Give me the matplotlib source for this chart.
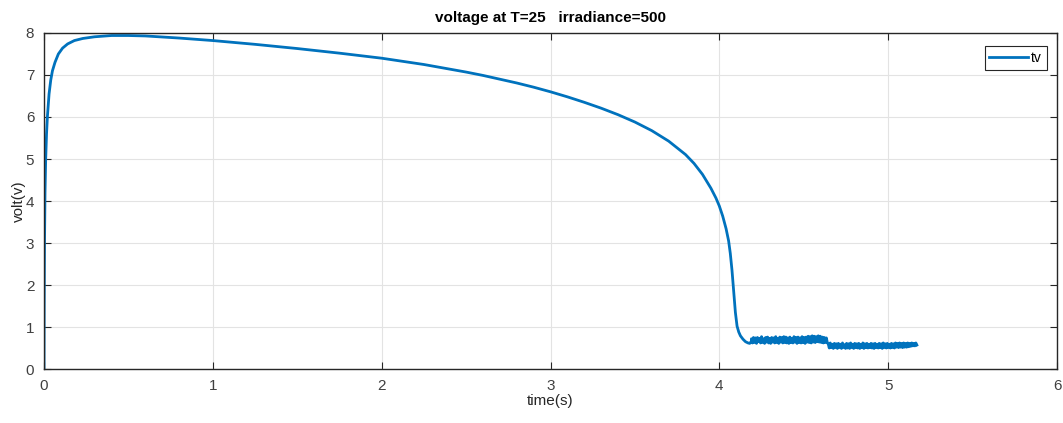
import matplotlib
matplotlib.use("Agg")
import matplotlib.pyplot as plt
import numpy as np

# main discharge curve
time_pts = [0, 0.001, 0.003, 0.006, 0.01, 0.015, 0.02, 0.03, 0.04, 0.05, 0.065,
            0.085, 0.11, 0.14, 0.18, 0.23, 0.3, 0.4, 0.5, 0.6, 0.8, 1.0, 1.25,
            1.5, 1.75, 2.0, 2.25, 2.5, 2.6, 2.7, 2.8, 2.9, 3.0, 3.1, 3.2, 3.3,
            3.4, 3.5, 3.6, 3.7, 3.8, 3.85, 3.9, 3.95, 3.98, 4.0, 4.02, 4.04,
            4.055, 4.065, 4.075, 4.085, 4.095, 4.105, 4.115, 4.125, 4.14, 4.155,
            4.17, 4.18, 4.19]
volt_pts = [0, 1.5, 3.0, 4.2, 5.0, 5.6, 6.0, 6.55, 6.88, 7.1, 7.3,
            7.5, 7.64, 7.74, 7.82, 7.87, 7.91, 7.94, 7.94, 7.93, 7.88, 7.82, 7.73,
            7.63, 7.52, 7.40, 7.25, 7.07, 6.99, 6.90, 6.81, 6.71, 6.60, 6.48, 6.35, 6.21,
            6.055, 5.88, 5.675, 5.425, 5.105, 4.895, 4.635, 4.305, 4.07, 3.88, 3.64, 3.34,
            3.05, 2.75, 2.35, 1.85, 1.35, 1.02, 0.88, 0.79, 0.71, 0.65,
            0.62, 0.61, 0.66]

# noisy tail after the collapse
tail_a_span = (4.19, 4.64)
tail_a = [0.72, 0.62, 0.75, 0.63, 0.74, 0.61, 0.75, 0.65, 0.73, 0.62, 0.77, 0.63,
          0.72, 0.61, 0.75, 0.64, 0.76, 0.62, 0.73, 0.61, 0.75, 0.64, 0.74, 0.62,
          0.77, 0.63, 0.73, 0.61, 0.76, 0.64, 0.75, 0.62, 0.77, 0.63, 0.76, 0.62,
          0.74, 0.61, 0.76, 0.63, 0.73, 0.62, 0.77, 0.64, 0.75, 0.61, 0.76, 0.63,
          0.74, 0.62, 0.77, 0.63, 0.75, 0.61, 0.76, 0.64, 0.78, 0.63, 0.77, 0.62,
          0.79, 0.64, 0.78, 0.63, 0.77, 0.65, 0.79, 0.64, 0.78, 0.63, 0.76, 0.62,
          0.75, 0.63, 0.74, 0.62]
tail_b_span = (4.645, 5.17)
tail_b = [0.60, 0.50, 0.62, 0.51, 0.59, 0.49, 0.61, 0.51, 0.60, 0.49, 0.61, 0.51,
          0.59, 0.49, 0.62, 0.51, 0.58, 0.49, 0.61, 0.50, 0.60, 0.49, 0.62, 0.51,
          0.59, 0.49, 0.61, 0.51, 0.60, 0.50, 0.61, 0.49, 0.59, 0.51, 0.62, 0.49,
          0.60, 0.51, 0.61, 0.50, 0.59, 0.51, 0.61, 0.50, 0.60, 0.49, 0.61, 0.51,
          0.59, 0.50, 0.61, 0.51, 0.60, 0.49, 0.62, 0.51, 0.60, 0.50, 0.61, 0.51,
          0.59, 0.50, 0.61, 0.51, 0.60, 0.50, 0.62, 0.52, 0.61, 0.51, 0.62, 0.52,
          0.61, 0.51, 0.62, 0.52, 0.61, 0.52, 0.62, 0.53, 0.61, 0.54, 0.62, 0.55,
          0.61, 0.55, 0.62, 0.57]

t = np.concatenate([time_pts,
                    np.linspace(*tail_a_span, len(tail_a)),
                    np.linspace(*tail_b_span, len(tail_b))])
v = np.concatenate([volt_pts, tail_a, tail_b])

plt.rcParams['font.family'] = ['Liberation Sans', 'DejaVu Sans']
dark = "#262626"

fig = plt.figure(figsize=(10.63, 4.23), dpi=100)
ax = fig.add_axes([44 / 1063, 54 / 423, 1013 / 1063, 336 / 423])

ax.plot(t, v, color="#0072BD", linewidth=2, label="tv")

ax.set_xlim(0, 6)
ax.set_ylim(0, 8)
ax.set_xticks(range(0, 7))
ax.set_yticks(range(0, 9))
ax.grid(True, color="#e3e3e3", linewidth=0.8)
ax.set_axisbelow(True)
ax.tick_params(direction="in", length=5, width=0.8, colors=dark,
               labelsize=11, top=True, right=True, pad=7)
ax.tick_params(axis="x", labelcolor="#404040")
ax.tick_params(axis="y", labelcolor="#404040")
for s in ax.spines.values():
    s.set_color(dark)
    s.set_linewidth(1.0)

ax.set_title("voltage at T=25   irradiance=500", fontsize=11, fontweight="bold",
             color="black", pad=8)
ax.set_xlabel("time(s)", fontsize=11, color=dark, labelpad=1)
ax.set_ylabel("volt(v)", fontsize=11, color=dark, labelpad=0)

leg = ax.legend(loc="upper right", bbox_to_anchor=(0.99, 0.961), fontsize=10,
                handlelength=2.8, handletextpad=0.2, borderpad=0.35,
                borderaxespad=0, fancybox=False, framealpha=1, edgecolor=dark)
leg.get_frame().set_linewidth(0.8)

fig.savefig("out.png", dpi=100)
